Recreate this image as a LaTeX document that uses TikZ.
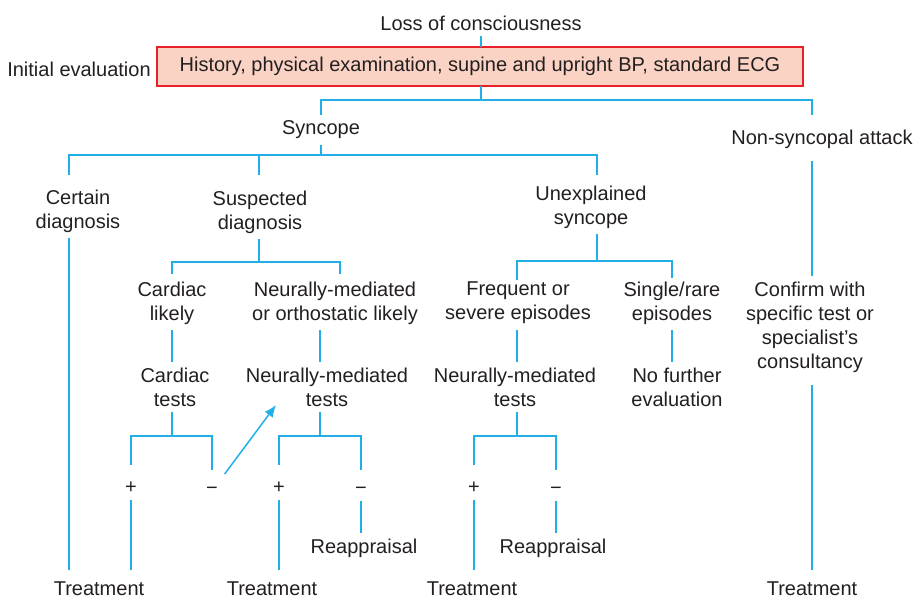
\documentclass[tikz,border=0pt]{standalone}
\usepackage{fontspec}
\setmainfont{Liberation Sans}
\usetikzlibrary{arrows.meta}
\definecolor{lnkblue}{HTML}{22AEE6}
\definecolor{boxred}{HTML}{E8202A}
\definecolor{boxfill}{HTML}{FAD3C4}
\definecolor{ink}{HTML}{231F20}
\begin{document}
\begin{tikzpicture}[x=1pt, y=-1pt, txt/.style={align=center, inner sep=0pt, outer sep=6pt, text=ink, font=\fontsize{20}{24}\selectfont}, ibox/.style={txt, draw=boxred, fill=boxfill, line width=1.3pt, minimum width=646pt, minimum height=39pt, outer sep=0pt}, lnk/.style={draw=lnkblue, line width=1.5pt}, pm/.style={shorten <=11pt, shorten >=11pt}]
		\useasboundingbox (0,0) rectangle (915,599);
		\coordinate (barA) at (481,100); \coordinate (barB) at (320,155); \coordinate (barC) at (259,262); \coordinate (barD) at (320,436); \coordinate (barE) at (172,436); \coordinate (barF) at (597,261); \coordinate (barG) at (517,436);
		\coordinate (nonT) at (812,115); \coordinate (certT) at (69,175); \coordinate (suspT) at (259,175); \coordinate (unexT) at (597,175);
		\coordinate (cardT) at (172,274); \coordinate (neurT) at (340,274); \coordinate (freqT) at (517,280); \coordinate (singT) at (672,278);
		\coordinate (endrow) at (0,570); \coordinate (arrTip) at (276,405);

		\node[txt] (loss) at (481,23) {Loss of consciousness};
		\node[txt] (init) at (79,69) {Initial evaluation};
		\node[ibox] (hist) at (480,66.5) {History, physical examination, supine and upright BP, standard ECG};
		\node[txt] (syn) at (321,130) {Syncope};
		\node[txt] (non) at (822,139) {Non-syncopal attack};
		\node[txt] (cert) at (78,211) {Certain\\diagnosis};
		\node[txt] (susp) at (260,212) {Suspected\\diagnosis};
		\node[txt] (unex) at (591,207) {Unexplained\\syncope};
		\node[txt] (card) at (172,303) {Cardiac\\likely};
		\node[txt] (neur) at (335,303) {Neurally-mediated\\or orthostatic likely};
		\node[txt] (freq) at (518,303) {Frequent or\\severe episodes};
		\node[txt] (sing) at (672,303) {Single/rare\\episodes};
		\node[txt] (conf) at (810,327) {Confirm with\\specific test or\\specialist’s\\consultancy};
		\node[txt] (ctest) at (175,387) {Cardiac\\tests};
		\node[txt] (ntest) at (327,387) {Neurally-mediated\\tests};
		\node[txt] (ntestb) at (515,387) {Neurally-mediated\\tests};
		\node[txt] (nofur) at (677,387) {No further\\evaluation};
		\node[txt] (pa) at (131,488) {+}; \node[txt] (ma) at (212,491) {−};
		\node[txt] (pb) at (279,488) {+}; \node[txt] (mb) at (361,491) {−};
		\node[txt] (pc) at (474,488) {+}; \node[txt] (mc) at (556,491) {−};
		\node[txt] (reapa) at (364,548) {Reappraisal};
		\node[txt] (reapb) at (553,548) {Reappraisal};
		\node[txt] (treata) at (99,589) {Treatment};
		\node[txt] (treatb) at (272,589) {Treatment};
		\node[txt] (treatc) at (472,589) {Treatment};
		\node[txt] (treatd) at (812,589) {Treatment};

		% top of the tree
		\draw[lnk] (loss) -- (loss |- hist.north);
		\draw[lnk] (hist.south -| barA) -- (barA);
		\draw[lnk] (syn.north) |- (barA) -| (nonT);
		\draw[lnk] (syn.south) -- (syn.south |- barB);
		\draw[lnk] (certT) |- (barB) -| (unexT);
		\draw[lnk] (suspT) -- (suspT |- barB);
		\draw[lnk] (cert.south -| certT) -- (certT |- endrow);
		% suspected diagnosis
		\draw[lnk] (susp.south -| barC) -- (barC);
		\draw[lnk] (cardT) |- (barC) -| (neurT);
		\draw[lnk] (card.south -| cardT) -- (ctest.north -| cardT);
		\draw[lnk] (neur.south -| barD) -- (ntest.north -| barD);
		\draw[lnk] (ctest.south -| barE) -- (barE);
		\draw[lnk, pm] (pa.north) |- (barE) -| (ma.north);
		\draw[lnk] (pa) -- (pa |- endrow);
		\draw[lnk, shorten <=9pt, -{Latex[length=12pt, width=10pt]}] (ma) -- (arrTip);
		\draw[lnk] (ntest.south -| barD) -- (barD);
		\draw[lnk, pm] (pb.north) |- (barD) -| (mb.north);
		\draw[lnk] (pb) -- (pb |- endrow);
		\draw[lnk] (mb) -- (mb |- reapa.north);
		% unexplained syncope
		\draw[lnk] (unex.south -| barF) -- (barF);
		\draw[lnk] (freqT) |- (barF) -| (singT);
		\draw[lnk] (freq.south -| barG) -- (ntestb.north -| barG);
		\draw[lnk] (sing.south) -- (sing.south |- nofur.north);
		\draw[lnk] (ntestb.south -| barG) -- (barG);
		\draw[lnk, pm] (pc.north) |- (barG) -| (mc.north);
		\draw[lnk] (pc) -- (pc |- endrow);
		\draw[lnk] (mc) -- (mc |- reapb.north);
		% non-syncopal
		\draw[lnk, shorten <=7pt] (non.south -| nonT) -- (conf.north -| nonT);
		\draw[lnk, shorten <=7pt] (conf.south -| nonT) -- (nonT |- endrow);
	\end{tikzpicture}
\end{document}
